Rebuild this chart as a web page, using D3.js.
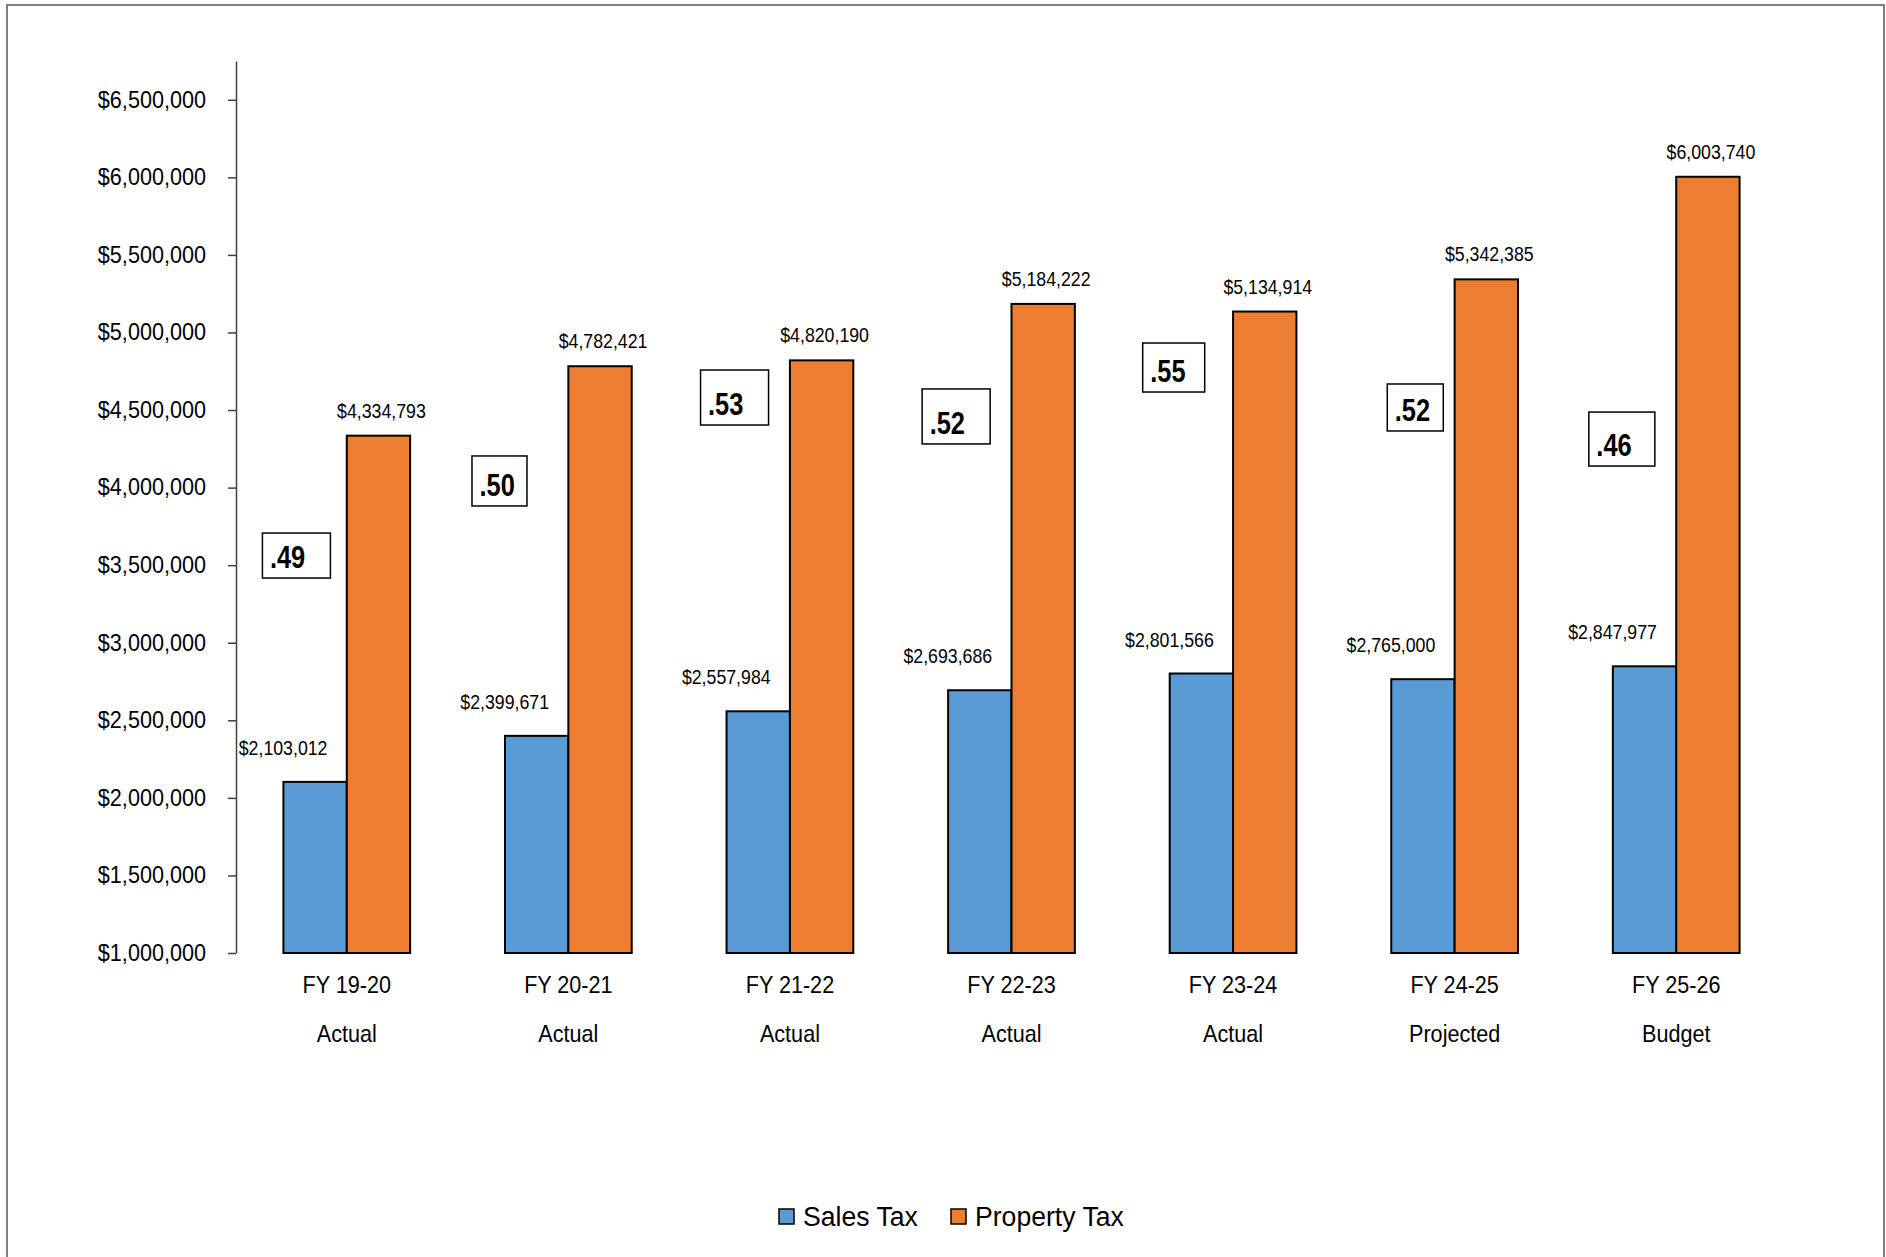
<!DOCTYPE html>
<html>
<head>
<meta charset="utf-8">
<script src="https://cdn.jsdelivr.net/npm/d3@7/dist/d3.min.js"></script>
<style>
  html, body { margin: 0; padding: 0; background: #fff; }
  svg { display: block; }
  text { font-family: "Liberation Sans Narrow", "Arial Narrow", "Liberation Sans", Arial, sans-serif; fill: #000; }
</style>
</head>
<body>
<svg id="chart" width="1886" height="1257"></svg>
<script>
// Fiscal years and their status row
const categories = ["FY 19-20", "FY 20-21", "FY 21-22", "FY 22-23", "FY 23-24", "FY 24-25", "FY 25-26"];
const statusLabels = ["Actual", "Actual", "Actual", "Actual", "Actual", "Projected", "Budget"];

// Revenue series (dollars)
const salesTax = [2103012, 2399671, 2557984, 2693686, 2801566, 2765000, 2847977];
const propertyTax = [4334793, 4782421, 4820190, 5184222, 5134914, 5342385, 6003740];

// Sales-to-property ratio call-outs
const ratioLabels = [".49", ".50", ".53", ".52", ".55", ".52", ".46"];

// Y axis ticks
const yTicks = [1000000, 1500000, 2000000, 2500000, 3000000, 3500000, 4000000, 4500000, 5000000, 5500000, 6000000, 6500000];

const seriesNames = ["Sales Tax", "Property Tax"];
const colors = { "Sales Tax": "#5B9BD5", "Property Tax": "#ED7D31" };

// Ratio call-out placement: top edge in dollar units, offset from band start, box size
const ratioBoxTop = [3707000, 4204000, 4758000, 4636000, 4932000, 4668000, 4487000];
const ratioBoxDx = [-21, -33, -26, -26, -27, -4, -24];
const ratioBoxW = [68, 55, 68, 68, 62, 56, 66];
const ratioBoxH = [45, 50, 55, 55, 49, 47, 54];

// Slightly condensed lettering: squeeze each label horizontally around its anchor point
function narrow(sel, k) {
  sel.each(function () {
    const t = d3.select(this);
    const tx = +t.attr("x") || 0;
    const ty = +t.attr("y") || 0;
    t.attr("x", 0).attr("y", 0)
     .attr("transform", `translate(${tx},${ty}) scale(${k},1)`);
  });
}

const svg = d3.select("#chart");

// outer frame
svg.append("rect")
  .attr("x", 7).attr("y", 5)
  .attr("width", 1877).attr("height", 1300)
  .attr("fill", "#fff")
  .attr("stroke", "#7f7f7f")
  .attr("stroke-width", 2);

const plotLeft = 236, plotRight = 1787, plotBottom = 953, plotTop = 61;

const x = d3.scaleBand()
  .domain(categories)
  .range([plotLeft, plotRight])
  .paddingInner(0.428)
  .paddingOuter(0.214);

const xs = d3.scaleBand()
  .domain(seriesNames)
  .range([0, x.bandwidth()]);

const y = d3.scaleLinear()
  .domain([1000000, 6750000])
  .range([plotBottom, plotTop]);

const money = d3.format("$,.0f");

// Y axis
const yAxis = d3.axisLeft(y)
  .tickValues(yTicks)
  .tickFormat(money)
  .tickSizeInner(8)
  .tickSizeOuter(0)
  .tickPadding(22);

const gy = svg.append("g")
  .attr("transform", `translate(${plotLeft},0)`)
  .call(yAxis);
gy.select(".domain").attr("stroke", "#404040").attr("stroke-width", 1.5);
gy.selectAll(".tick line").attr("stroke", "#404040").attr("stroke-width", 1.5);
gy.selectAll(".tick text")
  .attr("font-size", 23)
  .attr("font-family", null)
  .attr("fill", "#000")
  .call(narrow, 0.94);

// Bars
const rows = categories.map((c, i) => ({
  cat: c,
  values: [
    { key: "Sales Tax", value: salesTax[i] },
    { key: "Property Tax", value: propertyTax[i] }
  ]
}));

const groups = svg.append("g").selectAll("g")
  .data(rows)
  .join("g")
  .attr("transform", d => `translate(${x(d.cat)},0)`);

groups.selectAll("rect")
  .data(d => d.values)
  .join("rect")
  .attr("x", d => xs(d.key))
  .attr("y", d => y(d.value))
  .attr("width", xs.bandwidth())
  .attr("height", d => y(1000000) - y(d.value))
  .attr("fill", d => colors[d.key])
  .attr("stroke", "#000")
  .attr("stroke-width", 2);

// Value labels
groups.selectAll("text.val")
  .data(d => d.values)
  .join("text")
  .attr("class", "val")
  .attr("x", d => xs(d.key) + xs.bandwidth() / 2 + (d.key === "Sales Tax" ? -32 : 3))
  .attr("y", d => y(d.value) - (d.key === "Sales Tax" ? 27 : 18))
  .attr("text-anchor", "middle")
  .attr("font-size", 19.5)
  .text(d => money(d.value))
  .call(narrow, 0.91);

// Category labels
const gx = svg.append("g");
gx.selectAll("text.cat")
  .data(categories)
  .join("text")
  .attr("class", "cat")
  .attr("x", d => x(d) + x.bandwidth() / 2)
  .attr("y", 993)
  .attr("text-anchor", "middle")
  .attr("font-size", 24)
  .text(d => d)
  .call(narrow, 0.9);
gx.selectAll("text.status")
  .data(categories)
  .join("text")
  .attr("class", "status")
  .attr("x", d => x(d) + x.bandwidth() / 2)
  .attr("y", 1042)
  .attr("text-anchor", "middle")
  .attr("font-size", 24)
  .text((d, i) => statusLabels[i])
  .call(narrow, 0.9);

// Ratio call-outs
const callouts = svg.append("g").selectAll("g")
  .data(categories)
  .join("g")
  .attr("transform", (d, i) => `translate(${x(d) + ratioBoxDx[i]},${y(ratioBoxTop[i])})`);
callouts.append("rect")
  .attr("width", (d, i) => ratioBoxW[i])
  .attr("height", (d, i) => ratioBoxH[i])
  .attr("fill", "#fff")
  .attr("stroke", "#000")
  .attr("stroke-width", 1.5);
callouts.append("text")
  .attr("x", 7.5)
  .attr("y", (d, i) => ratioBoxH[i] - 10)
  .attr("font-size", 31)
  .attr("font-weight", "bold")
  .text((d, i) => ratioLabels[i])
  .call(narrow, 0.82);

// Legend
const legend = svg.append("g");
const legendItems = [
  { key: "Sales Tax", sx: 779, tx: 803 },
  { key: "Property Tax", sx: 951, tx: 975 }
];
legend.selectAll("rect")
  .data(legendItems)
  .join("rect")
  .attr("x", d => d.sx)
  .attr("y", 1209)
  .attr("width", 15)
  .attr("height", 15)
  .attr("fill", d => colors[d.key])
  .attr("stroke", "#000")
  .attr("stroke-width", 1.5);
legend.selectAll("text")
  .data(legendItems)
  .join("text")
  .attr("x", d => d.tx)
  .attr("y", 1226)
  .attr("font-size", 28)
  .text(d => d.key)
  .call(narrow, 0.95);
</script>
</body>
</html>
